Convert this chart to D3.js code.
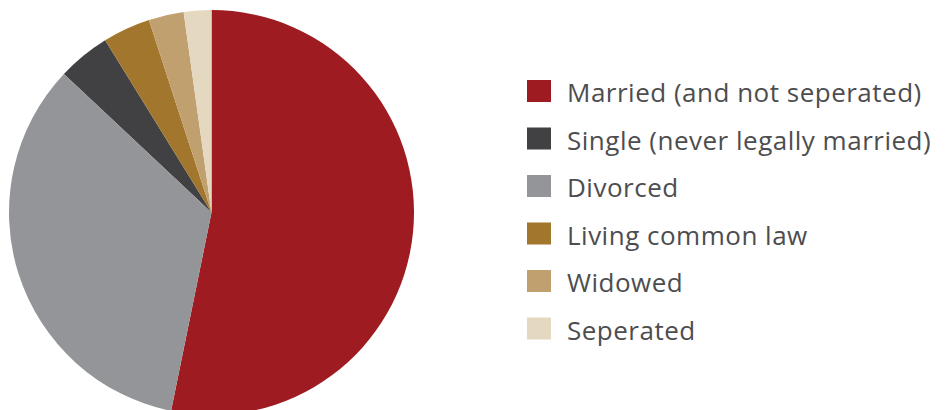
<!DOCTYPE html>
<html>
<head>
<meta charset="utf-8">
<script src="https://cdn.jsdelivr.net/npm/d3@7"></script>
<style>
  html, body { margin: 0; padding: 0; background: #fff; }
  svg { display: block; }
  .legend text { font-family: "Open Sans", "DejaVu Sans", sans-serif; font-size: 26px; letter-spacing: 0.5px; fill: #4d4d4f; }
</style>
</head>
<body>
<svg id="chart" width="947" height="410"></svg>
<script>
// Marital status shares (percent)
const categories = [
  "Married (and not seperated)",
  "Single (never legally married)",
  "Divorced",
  "Living common law",
  "Widowed",
  "Seperated"
];
const values = [53.2, 4.2, 33.8, 3.8, 2.8, 2.2];
const colors = ["#9e1b22", "#414143", "#939598", "#a2772d", "#c1a070", "#e5d8c0"];

const data = categories.map((c, i) => ({ label: c, value: values[i], color: colors[i] }));

const svg = d3.select("#chart");
const cx = 211.5, cy = 212.5, r = 202.5;

// Slices are laid out largest first, clockwise from 12 o'clock
const pie = d3.pie().value(d => d.value);
const arc = d3.arc().innerRadius(0).outerRadius(r);

svg.append("g")
  .attr("transform", `translate(${cx},${cy})`)
  .selectAll("path")
  .data(pie(data))
  .join("path")
  .attr("d", arc)
  .attr("fill", d => d.data.color);

// Legend in data order
const rowY = d3.scalePoint().domain(categories).range([80, 317.5]);
const legend = svg.append("g").attr("class", "legend");
const rows = legend.selectAll("g")
  .data(data)
  .join("g")
  .attr("transform", d => `translate(527,${rowY(d.label)})`);
rows.append("rect")
  .attr("width", 24)
  .attr("height", 22)
  .attr("fill", d => d.color);
rows.append("text")
  .attr("x", 40)
  .attr("y", 22)
  .text(d => d.label);
</script>
</body>
</html>
